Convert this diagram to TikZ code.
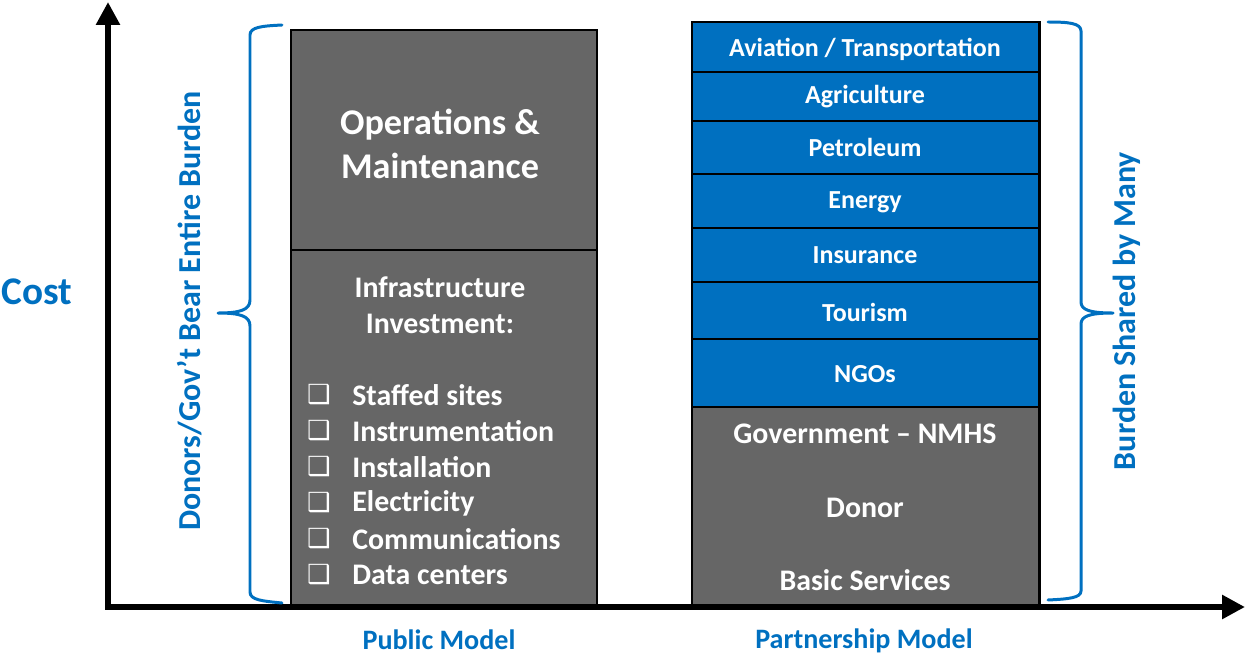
\documentclass[tikz,border=0pt]{standalone}
\usepackage{fontspec}
\setmainfont{Carlito}
\newfontfamily\symfont{DejaVu Sans}
\usetikzlibrary{arrows.meta}
\definecolor{cblue}{HTML}{0070C0}
\definecolor{cgray}{HTML}{666666}
\begin{document}
\begin{tikzpicture}[x=0.02cm,y=-0.02cm,
  colbox/.style={draw=black,line width=1.7pt},
  graybox/.style={colbox,fill=cgray},
  bluebox/.style={colbox,fill=cblue},
  bigtxt/.style={text=white,font=\bfseries\fontsize{20.6}{24}\selectfont,inner sep=0pt},
  midtxt/.style={text=white,font=\bfseries\fontsize{17}{19}\selectfont,inner sep=0pt},
  smtxt/.style={text=white,font=\bfseries\fontsize{14.8}{16}\selectfont,inner sep=0pt},
  chk/.style={text=white,font=\symfont\fontsize{15}{17}\selectfont,inner sep=0pt},
  bluelab/.style={text=cblue,font=\bfseries\fontsize{18.2}{20}\selectfont,inner sep=0pt},
  modlab/.style={text=cblue,font=\bfseries\fontsize{16}{18}\selectfont,inner sep=0pt},
  bracestyle/.style={draw=cblue,line width=1.7pt,line cap=round,line join=round},
  axisline/.style={line width=3.2pt,{Triangle[length=13pt,width=13pt]}-{Triangle[length=13pt,width=13pt]}}
]
\useasboundingbox (0,0) rectangle (1245,656);

% left column
\draw[graybox] (291,30) rectangle (597,250);
\draw[graybox] (291,250) rectangle (597,607);
% right column
\draw[bluebox] (692,22) rectangle (1039,72);
\draw[bluebox] (692,72) rectangle (1039,121);
\draw[bluebox] (692,121) rectangle (1039,174);
\draw[bluebox] (692,174) rectangle (1039,228);
\draw[bluebox] (692,228) rectangle (1039,282);
\draw[bluebox] (692,282) rectangle (1039,339);
\draw[bluebox] (692,339) rectangle (1039,407);
\draw[graybox] (692,407) rectangle (1039,607);

% axes
\coordinate (ytop) at (108,2);
\coordinate (orig) at (108,607);
\coordinate (xend) at (1245,607);
\draw[axisline] (ytop) -- (orig) -- (xend);

% left column texts
\node[bigtxt] (om1) at (440,125) {Operations \&};
\node[bigtxt] (om2) at (440,166) {Maintenance};
\node[midtxt] (inf1) at (440,287) {Infrastructure};
\node[midtxt] (inf2) at (440,324) {Investment:};
\foreach \t/\yy [count=\i] in {Staffed sites/395,Instrumentation/431,Installation/467,Electricity/503,Communications/539,Data centers/575}{
  \node[chk] (c\i) at (319,\yy) {❑};
  \node[midtxt,anchor=west] (l\i) at (352,\yy) {\t};
}

% right column texts
\node[smtxt] (avi) at (865,49) {Aviation / Transportation};
\node[smtxt] (agr) at (865,97) {Agriculture};
\node[smtxt] (pet) at (865,147) {Petroleum};
\node[smtxt] (ene) at (865,202) {Energy};
\node[smtxt] (ins) at (865,255) {Insurance};
\node[smtxt] (tou) at (865,312) {Tourism};
\node[smtxt] (ngo) at (865,374) {NGOs};
\node[midtxt] (gov) at (865,434) {Government – NMHS};
\node[midtxt] (don) at (865,508) {Donor};
\node[midtxt] (bas) at (865,580) {Basic Services};

% labels
\node[text=cblue,font=\bfseries\fontsize{22.3}{24}\selectfont,inner sep=0pt] (cost) at (37,292) {Cost};
\node[bluelab,rotate=90] (donors) at (190,311) {Donors/Gov’t Bear Entire Burden};
\node[bluelab,rotate=90] (shared) at (1127,311) {Burden Shared by Many};
\node[modlab] (pub) at (439,640) {Public Model};
\node[modlab] (par) at (864,641) {Partnership Model};

% braces
\draw[bracestyle] (282,25) .. controls (262,26) and (250,27) .. (250,35)
  -- (250,300) .. controls (250,310) and (240,313) .. (218,313)
  .. controls (240,313) and (250,316) .. (250,326)
  -- (250,592) .. controls (250,600) and (262,601) .. (282,603);
\draw[bracestyle] (1048,22) .. controls (1068,22) and (1081,23) .. (1081,31)
  -- (1081,302) .. controls (1081,310) and (1090,313) .. (1113,313)
  .. controls (1090,313) and (1081,316) .. (1081,324)
  -- (1081,591) .. controls (1081,598) and (1068,599) .. (1048,600);
\end{tikzpicture}
\end{document}
